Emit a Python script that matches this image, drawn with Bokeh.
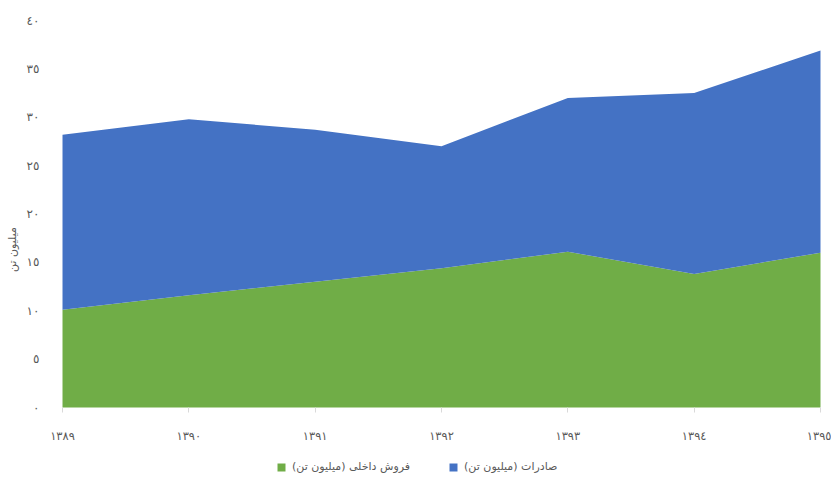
from bokeh.plotting import figure
from bokeh.models import ColumnDataSource, Legend, LegendItem, FixedTicker
from bokeh.embed import file_html
from bokeh.resources import INLINE

years = [1389, 1390, 1391, 1392, 1393, 1394, 1395]
year_labels = ["١٣٨٩", "١٣٩٠", "١٣٩١", "١٣٩٢", "١٣٩٣", "١٣٩٤", "١٣٩٥"]
domestic = [10.1, 11.6, 13.0, 14.4, 16.1, 13.8, 16.0]
exports = [18.1, 18.2, 15.7, 12.6, 15.9, 18.7, 20.9]
y_ticks = [0, 5, 10, 15, 20, 25, 30, 35, 40]
y_labels = ["٠", "٥", "١٠", "١٥", "٢٠", "٢٥", "٣٠", "٣٥", "٤٠"]
series_names = ["فروش داخلی (میلیون تن)", "صادرات (میلیون تن)"]
y_title = "میلیون تن"

src = ColumnDataSource(dict(x=years, domestic=domestic, exports=exports))

W, H = 831, 478
L, T = 48, 20
# pixel layout: first year at 62 px, last at 820 px; value 0 at 407 px, 40 at 20 px
px_per_year = (820 - 62) / (years[-1] - years[0])
x_start = years[0] - (62 - L) / px_per_year
x_end = years[-1] + (W - 820) / px_per_year
px_per_unit = (407 - T) / 40.0
y_start = -(H - 407) / px_per_unit

p = figure(width=W, height=H, output_backend="svg", toolbar_location=None,
           x_range=(x_start, x_end), y_range=(y_start, 40),
           min_border_left=L, min_border_right=0, min_border_top=T, min_border_bottom=0)

rs = p.varea_stack(stackers=["domestic", "exports"], x="x", source=src,
                   color=["#70AD47", "#4472C4"])

p.xgrid.visible = False
p.ygrid.visible = False
p.outline_line_color = None

p.xaxis.fixed_location = 0
p.xaxis.ticker = FixedTicker(ticks=years)
p.xaxis.major_label_overrides = {y: l for y, l in zip(years, year_labels)}
p.xaxis.axis_line_color = None
p.xaxis.major_tick_line_color = "#D9D9D9"
p.xaxis.major_tick_out = 5
p.xaxis.major_tick_in = 0
p.xaxis.minor_tick_line_color = None
p.xaxis.major_label_standoff = 16
p.xaxis.major_label_text_font = "DejaVu Sans"
p.xaxis.major_label_text_font_size = "11.5px"
p.xaxis.major_label_text_color = "#595959"

p.yaxis.ticker = FixedTicker(ticks=y_ticks)
p.yaxis.major_label_overrides = {t: l for t, l in zip(y_ticks, y_labels)}
p.yaxis.axis_line_color = None
p.yaxis.major_tick_line_color = None
p.yaxis.minor_tick_line_color = None
p.yaxis.major_label_standoff = 3
p.yaxis.major_label_text_font = "DejaVu Sans"
p.yaxis.major_label_text_font_size = "12px"
p.yaxis.major_label_text_color = "#595959"
p.yaxis.axis_label = y_title
p.yaxis.axis_label_text_font = "DejaVu Sans"
p.yaxis.axis_label_text_font_size = "11px"
p.yaxis.axis_label_text_font_style = "normal"
p.yaxis.axis_label_text_color = "#595959"
p.yaxis.axis_label_standoff = 5

legend = Legend(items=[LegendItem(label=series_names[0], renderers=[rs[0]]),
                       LegendItem(label=series_names[1], renderers=[rs[1]])],
                orientation="horizontal", location=(228, 5),
                padding=0, margin=0, spacing=38, glyph_width=10, glyph_height=10,
                label_standoff=6, border_line_color=None, background_fill_alpha=0,
                label_text_font="DejaVu Sans", label_text_font_size="11px",
                label_text_color="#595959")
p.add_layout(legend, "center")

open("out.html", "w").write(file_html(p, INLINE))
